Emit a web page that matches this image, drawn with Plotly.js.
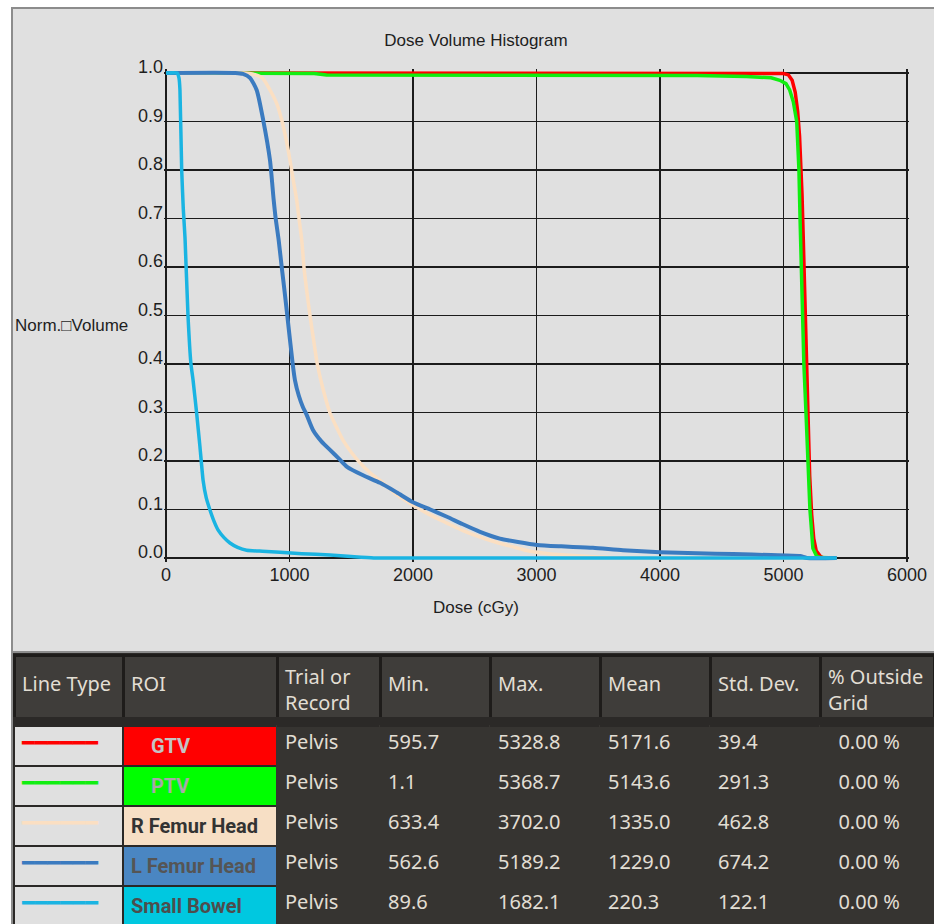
<!DOCTYPE html>
<html><head><meta charset="utf-8">
<script src="https://cdn.plot.ly/plotly-3.0.1.min.js"></script>
<style>html,body{margin:0;padding:0;background:#fff;}#chart{width:934px;height:924px;}</style>
</head><body><div id="chart"></div>
<script>
// ---------- data ----------
const roiNames = ['GTV', 'PTV', 'R Femur Head', 'L Femur Head', 'Small Bowel'];
const trialNames = ['Pelvis', 'Pelvis', 'Pelvis', 'Pelvis', 'Pelvis'];
const minDose = [595.7, 1.1, 633.4, 562.6, 89.6];
const maxDose = [5328.8, 5368.7, 3702.0, 5189.2, 1682.1];
const meanDose = [5171.6, 5143.6, 1335.0, 1229.0, 220.3];
const stdDev = [39.4, 291.3, 462.8, 674.2, 122.1];
const outsideGrid = [0, 0, 0, 0, 0];
const headerLabels = ['Line Type', 'ROI', 'Trial or<br>Record', 'Min.', 'Max.', 'Mean', 'Std. Dev.', '% Outside<br>Grid'];

const gtvDose = [0, 595.7, 4900, 5000, 5040, 5070, 5095, 5115, 5130, 5140, 5150, 5160, 5170, 5180, 5190, 5200, 5212, 5228, 5245, 5265, 5300, 5328.8, 5430];
const gtvVol  = [1, 1, 1, 0.999, 0.996, 0.985, 0.96, 0.92, 0.87, 0.82, 0.75, 0.66, 0.56, 0.45, 0.35, 0.26, 0.17, 0.09, 0.04, 0.015, 0.003, 0, 0];

const ptvDose = [0, 700, 1200, 1300, 4300, 4700, 4900, 4970, 5020, 5050, 5080, 5107, 5125, 5134, 5142, 5152, 5165, 5182, 5198, 5214, 5238, 5268, 5300, 5368.7, 5430];
const ptvVol  = [1, 1, 0.999, 0.996, 0.995, 0.993, 0.99, 0.985, 0.978, 0.965, 0.94, 0.9, 0.8, 0.7, 0.6, 0.5, 0.4, 0.3, 0.2, 0.1, 0.02, 0.004, 0.001, 0, 0];

const rfhDose = [0, 633.4, 700, 780, 842, 900, 937, 975, 1004, 1030, 1058, 1077, 1099, 1117, 1140, 1166, 1195, 1225, 1270, 1328, 1380, 1433, 1500, 1571, 1650, 1757, 1870, 2000, 2130, 2275, 2400, 2543, 2680, 2810, 2947, 3100, 3300, 3500, 3702, 5430];
const rfhVol  = [1, 1, 0.998, 0.99, 0.965, 0.935, 0.903, 0.86, 0.82, 0.78, 0.738, 0.7, 0.656, 0.6, 0.55, 0.5, 0.45, 0.4, 0.35, 0.299, 0.27, 0.243, 0.218, 0.196, 0.176, 0.155, 0.13, 0.109, 0.09, 0.072, 0.057, 0.043, 0.032, 0.023, 0.014, 0.009, 0.005, 0.002, 0, 0];

const lfhDose = [0, 562.6, 623, 680, 734, 787, 842, 872, 888, 912, 937, 960, 982, 1026, 1044, 1075, 1109, 1139, 1190, 1260, 1328, 1400, 1466, 1600, 1733, 1870, 2000, 2140, 2275, 2400, 2543, 2704, 2850, 3004, 3200, 3457, 3700, 4000, 4300, 4593, 4900, 5134, 5189.2, 5430];
const lfhVol  = [1, 1, 0.998, 0.99, 0.965, 0.903, 0.82, 0.738, 0.7, 0.656, 0.6, 0.55, 0.5, 0.4, 0.367, 0.335, 0.311, 0.295, 0.264, 0.24, 0.223, 0.205, 0.188, 0.17, 0.155, 0.135, 0.115, 0.1, 0.085, 0.07, 0.054, 0.04, 0.033, 0.027, 0.024, 0.021, 0.016, 0.012, 0.01, 0.008, 0.006, 0.004, 0, 0];

const sbDose = [0, 89.6, 105, 113, 127, 140, 154, 178, 202, 219, 248, 275, 300, 325, 356, 390, 421, 470, 518, 580, 653, 780, 923, 1100, 1328, 1500, 1682.1, 5430];
const sbVol  = [1, 1, 0.99, 0.965, 0.8, 0.72, 0.66, 0.5, 0.4, 0.367, 0.299, 0.229, 0.161, 0.125, 0.099, 0.075, 0.058, 0.042, 0.031, 0.022, 0.016, 0.014, 0.012, 0.009, 0.006, 0.003, 0, 0];

// ---------- styles ----------
const W = 934, H = 924;
const lineColors = ['#ff0000', '#11ee11', '#fbdfc2', '#3b7bc0', '#1ab4e2'];
const lineWidths = [3.5, 3.5, 3.5, 4, 3.5];
const lineSmooth = [0, 0, 0.6, 0.6, 0.4];
const roiFill = ['#ff0000', '#00ff00', '#f7dfc5', '#4a86c2', '#00c8e0'];
const roiText = ['#c4c4c4', '#a8a8a8', '#333333', '#555555', '#4d4d4d'];
const roiIndent = [4, 4, 0, 0, 0];
const darkBg = '#2b2927';
const bodyBg = '#363431';
const headBg = '#3f3d3a';
const lightText = '#e2ded4';
const clear = 'rgba(0,0,0,0)';

const series = [[gtvDose, gtvVol], [ptvDose, ptvVol], [rfhDose, rfhVol], [lfhDose, lfhVol], [sbDose, sbVol]];
const traces = series.map((s, i) => ({
  type: 'scatter', mode: 'lines', x: s[0], y: s[1], name: roiNames[i],
  line: lineSmooth[i] ? {color: lineColors[i], width: lineWidths[i], shape: 'spline', smoothing: lineSmooth[i]}
                      : {color: lineColors[i], width: lineWidths[i]},
  hoverinfo: 'skip', showlegend: false
}));

// pixel geometry of the plot frame
const px0 = 166, px1 = 907, py0 = 558, py1 = 73;
const xr = [-15, 6015], yr = [-0.008, 1.008];
const xs = (px1 - px0) / 6000, ys = (py0 - py1) / 1;
const domL = px0 + xr[0] * xs, domR = px1 + (xr[1] - 6000) * xs;
const domB = py0 - yr[0] * ys, domT = py1 - (yr[1] - 1) * ys;

// ---------- tables ----------
const colWidths = [109, 154, 103, 110, 110, 110, 110, 114];
const isTwoLine = t => t.indexOf('<br>') >= 0;
const noWrap = t => t.replace(/ /g, '\u00a0');
const emptyCols = headerLabels.map(() => []);
const headFont = {family: 'Noto Sans, sans-serif', size: 20, color: lightText};
const nb = n => '\u00a0'.repeat(n);

// body rows (drawn first)
traces.push({
  type: 'table', uid: 'tblBody',
  domain: {x: [14 / W, 1], y: [0, (H - 717) / H]},
  columnwidth: colWidths,
  header: {
    values: headerLabels.map(() => ''), height: 9,
    fill: {color: darkBg}, line: {color: darkBg, width: 1}
  },
  cells: {
    values: [
      roiNames.map(() => '━━━━━━'),
      roiNames.map((r, i) => '<b>' + nb(roiIndent[i]) + noWrap(r) + '</b>'),
      trialNames, minDose, maxDose, meanDose, stdDev, outsideGrid
    ],
    format: ['', '', '', '.1f', '.1f', '.1f', '.1f', '.2f'],
    prefix: ['', '', '', '', '', '', '', nb(2)],
    suffix: ['', '', '', '', '', '', '', ' %'],
    height: 39.5,
    align: 'left',
    fill: {color: [roiNames.map(() => '#e0e0e0'), roiFill, bodyBg, bodyBg, bodyBg, bodyBg, bodyBg, bodyBg]},
    line: {color: ['#2a2826', '#2a2826', bodyBg, bodyBg, bodyBg, bodyBg, bodyBg, bodyBg], width: 2},
    font: {
      family: ['DejaVu Sans Mono, monospace', 'Roboto, Liberation Sans, sans-serif',
               'Noto Sans, sans-serif', 'Noto Sans, sans-serif', 'Noto Sans, sans-serif', 'Noto Sans, sans-serif',
               'Noto Sans, sans-serif', 'Noto Sans, sans-serif'],
      size: [21, 20, 20, 20, 20, 20, 20, 20],
      color: [lineColors, roiText, lightText, lightText, lightText, lightText, lightText, lightText]
    }
  }
});
// header: fills + two-line labels
traces.push({
  type: 'table', uid: 'tblHeadA',
  domain: {x: [14 / W, 1], y: [(H - 717) / H, (H - 655) / H]},
  columnwidth: colWidths,
  header: {
    values: headerLabels.map(t => isTwoLine(t) ? t : ''),
    height: 62, align: 'left',
    fill: {color: headBg}, line: {color: '#1e1c1a', width: 3}, font: headFont
  },
  cells: {values: emptyCols}
});
// header: single-line labels, vertically centred (overlay)
traces.push({
  type: 'table', uid: 'tblHeadB',
  domain: {x: [14 / W, 1], y: [(H - 730) / H, (H - 668) / H]},
  columnwidth: colWidths,
  header: {
    values: headerLabels.map(t => isTwoLine(t) ? '' : noWrap(t)),
    height: 62, align: 'left',
    fill: {color: clear}, line: {color: clear, width: 0}, font: headFont
  },
  cells: {values: emptyCols}
});

const gridCol = '#1c1c1c';
const layout = {
  width: W, height: H,
  margin: {l: 0, r: 0, t: 0, b: 0, pad: 0},
  paper_bgcolor: '#ffffff', plot_bgcolor: clear,
  font: {family: 'Liberation Sans, Arial, sans-serif', color: '#1e1e1e', size: 18},
  showlegend: false,
  title: {text: 'Dose Volume Histogram', x: 476 / W, xanchor: 'center', y: (H - 40) / H, yanchor: 'middle',
          font: {size: 17, color: '#1e1e1e'}},
  xaxis: {
    domain: [domL / W, domR / W], range: xr, tickvals: [0, 1000, 2000, 3000, 4000, 5000, 6000],
    showgrid: true, gridcolor: gridCol, gridwidth: 1.6, zeroline: false, showline: false,
    ticks: '', ticklabelstandoff: 0, tickfont: {size: 18, color: '#1e1e1e'}
  },
  yaxis: {
    domain: [(H - domB) / H, (H - domT) / H], range: yr,
    tickvals: [0, 0.1, 0.2, 0.3, 0.4, 0.5, 0.6, 0.7, 0.8, 0.9, 1.0], tickformat: '.1f',
    showgrid: true, gridcolor: gridCol, gridwidth: 1.6, zeroline: false, showline: false,
    ticks: '', ticklabelstandoff: 0, ticklabelshift: -6, tickfont: {size: 18, color: '#1e1e1e'}
  },
  annotations: [
    {text: 'Dose (cGy)', xref: 'paper', yref: 'paper', x: 476 / W, y: (H - 608) / H, xanchor: 'center', yanchor: 'middle',
     showarrow: false, font: {size: 17, color: '#1e1e1e'}},
    {text: 'Norm.\u25A1Volume', xref: 'paper', yref: 'paper', x: 13 / W, y: (H - 325) / H, xanchor: 'left', yanchor: 'middle',
     showarrow: false, font: {size: 17, color: '#1e1e1e'}}
  ],
  shapes: [
    {type: 'rect', xref: 'paper', yref: 'paper', x0: 12 / W, x1: 1.01, y0: (H - 652) / H, y1: (H - 8) / H,
     fillcolor: '#e0e0e0', line: {color: '#8c8c8c', width: 2}, layer: 'below'},
    {type: 'rect', xref: 'paper', yref: 'paper', x0: 13 / W, x1: 1.01, y0: -0.01, y1: (H - 653) / H,
     fillcolor: darkBg, line: {width: 0}, layer: 'below'},
    {type: 'line', xref: 'paper', yref: 'paper', x0: 12 / W, x1: 12 / W, y0: 0, y1: (H - 8) / H,
     line: {color: '#8c8c8c', width: 2}, layer: 'below'}
  ]
};

Plotly.newPlot('chart', traces, layout, {displayModeBar: false, staticPlot: true});
</script></body></html>
